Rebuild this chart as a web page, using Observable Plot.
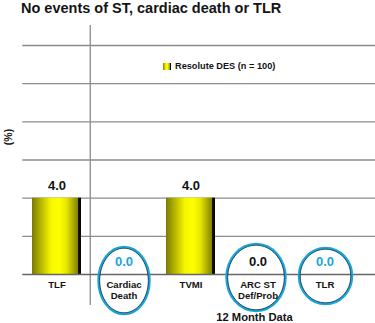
<!DOCTYPE html>
<html>
<head>
<meta charset="utf-8">
<script src="https://cdn.jsdelivr.net/npm/d3@7"></script>
<script src="https://cdn.jsdelivr.net/npm/@observablehq/plot@0.6"></script>
<style>
  html, body { margin: 0; padding: 0; background: #fff; }
  body { font-family: "Liberation Sans", Arial, sans-serif; }
  #wrap { position: relative; width: 375px; height: 323px; overflow: hidden; background: #fff; }
  #title { position: absolute; left: 21px; top: 1px; font-size: 14.5px; line-height: 1; font-weight: bold; color: #141414; white-space: nowrap; }
  #chart { position: absolute; left: 0; top: 25px; }
  #legend { position: absolute; left: 163px; top: 61px; display: flex; align-items: center; font-size: 9.2px; font-weight: bold; color: #141414; white-space: nowrap; }
  #legend .sw { width: 8px; height: 7px; margin-right: 4px; background: linear-gradient(to right, #7d7d05, #f5f500 35%, #ffff00 55%, #8a8a00 90%, #000 92%, #000); }
  #ylabel { position: absolute; left: 7.5px; top: 137px; transform: translate(-50%, -50%) rotate(-90deg); font-size: 10.5px; font-weight: bold; color: #141414; white-space: nowrap; }
</style>
</head>
<body>
<div id="wrap">
  <div id="title"></div>
  <div id="chart"></div>
  <div id="legend"><span class="sw"></span><span id="legendText"></span></div>
  <div id="ylabel"></div>
</div>
<script>
// ---- data ----
const title = "No events of ST, cardiac death or TLR";
const seriesName = "Resolute DES (n = 100)";
const yLabel = "(%)";
const xLabel = "12 Month Data";
const categories = ["TLF", "Cardiac\nDeath", "TVMI", "ARC ST\nDef/Prob", "TLR"];
const values = [4.0, 0.0, 4.0, 0.0, 0.0];
const valueLabels = ["4.0", "0.0", "4.0", "0.0", "0.0"];
const circledCategories = ["Cardiac\nDeath", "ARC ST\nDef/Prob", "TLR"];
const cyanLabelCategories = ["Cardiac\nDeath", "TLR"];
const gridTicks = [2, 4, 6, 8, 10, 12];

const data = categories.map((c, i) => ({category: c, value: values[i], label: valueLabels[i]}));

document.getElementById("title").textContent = title;
document.getElementById("legendText").textContent = seriesName;
document.getElementById("ylabel").textContent = yLabel;

const CYAN = "#1ba6d9";
const W = 375, H = 298, ML = 21.25, MR = 16.25;
const step = (W - ML - MR) / categories.length;

function ellipse(w, h) {
  return {
    draw(ctx) {
      const a = w / 2, b = h / 2, k = 0.5522847;
      ctx.moveTo(a, 0);
      ctx.bezierCurveTo(a, k * b, k * a, b, 0, b);
      ctx.bezierCurveTo(-k * a, b, -a, k * b, -a, 0);
      ctx.bezierCurveTo(-a, -k * b, -k * a, -b, 0, -b);
      ctx.bezierCurveTo(k * a, -b, a, -k * b, a, 0);
      ctx.closePath();
    }
  };
}

const ellipseSpecs = [
  {w: 51, h: 67, dx: 0, dy: 6},
  {w: 59, h: 67, dx: -2, dy: 3},
  {w: 53, h: 56, dx: 0.5, dy: 1.5}
];

const ellipseMarks = circledCategories.flatMap((c, i) => {
  const s = ellipseSpecs[i];
  return [
    Plot.dot([c], {x: d => d, y: () => 0, symbol: ellipse(s.w, s.h), stroke: CYAN, strokeWidth: 2.5, fill: "none", dx: s.dx, dy: s.dy}),
    Plot.dot([c], {x: d => d, y: () => 0, symbol: ellipse(s.w - 2.4, s.h - 2.4), stroke: "#0b1a2a", strokeWidth: 0.7, fill: "none", dx: s.dx, dy: s.dy})
  ];
});

const svg = Plot.plot({
  width: W,
  height: H,
  marginLeft: ML,
  marginRight: MR,
  marginTop: 20,
  marginBottom: 49,
  style: {fontFamily: "'Liberation Sans', Arial, sans-serif", background: "transparent", overflow: "visible"},
  x: {domain: categories, paddingInner: 0.27, paddingOuter: 0.135, axis: null},
  y: {domain: [0, 12], axis: null},
  color: {type: "identity"},
  marks: [
    Plot.ruleY(gridTicks, {stroke: "#8c8c8c", strokeWidth: 1.3, insetLeft: 1, insetRight: -MR}),
    Plot.ruleX([categories[1]], {x: d => d, y1: () => 12, y2: () => 0, dx: -step / 2, insetTop: -20, insetBottom: -31, stroke: "#8c8c8c", strokeWidth: 1.3}),
    Plot.barY(data, {x: "category", y: "value", fill: "url(#barGrad)"}),
    Plot.ruleY([0], {stroke: "#666", strokeWidth: 1.6, insetLeft: 1, insetRight: -MR}),
    ...ellipseMarks,
    Plot.text(data, {x: "category", y: "value", text: "label", dy: -12.5, fontSize: 13, fontWeight: "bold",
      fill: d => cyanLabelCategories.includes(d.category) ? CYAN : "#111"}),
    Plot.text(data, {x: "category", y: () => 0, text: "category", lineAnchor: "top", dy: 6, fontSize: 9.6, fontWeight: "bold", lineHeight: 1.15, fill: "#141414"}),
    Plot.text([xLabel], {x: () => categories[3], y: () => 0, text: d => d, dx: -3.5, dy: 42.5, fontSize: 11.2, fontWeight: "bold", fill: "#141414"})
  ]
});

const ns = "http://www.w3.org/2000/svg";
const defs = document.createElementNS(ns, "defs");
defs.innerHTML = `<linearGradient id="barGrad" x1="0" x2="1" y1="0" y2="0">
  <stop offset="0" stop-color="#7a7a05"/>
  <stop offset="0.18" stop-color="#b5b500"/>
  <stop offset="0.38" stop-color="#f5f500"/>
  <stop offset="0.55" stop-color="#ffff00"/>
  <stop offset="0.7" stop-color="#e8e800"/>
  <stop offset="0.93" stop-color="#858500"/>
  <stop offset="0.945" stop-color="#151500"/>
  <stop offset="1" stop-color="#000"/>
</linearGradient>`;
svg.insertBefore(defs, svg.firstChild);
document.getElementById("chart").appendChild(svg);
</script>
</body>
</html>
